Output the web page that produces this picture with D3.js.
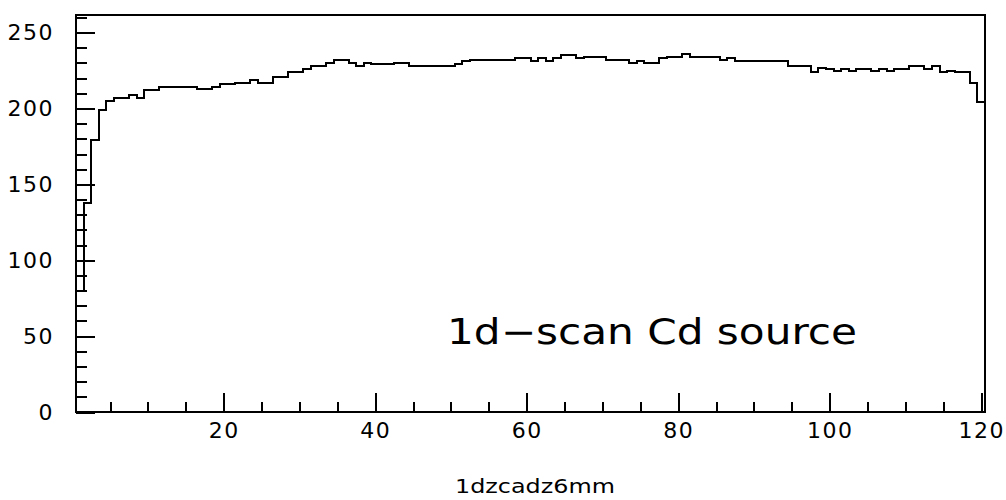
<!DOCTYPE html>
<html>
<head>
<meta charset="utf-8">
<script src="https://cdn.jsdelivr.net/npm/d3@7"></script>
<style>
  body { margin: 0; background: #fff; }
  svg { display: block; }
  .lbl { font-family: "DejaVu Sans", sans-serif; font-size: 22px; fill: #000; }
</style>
</head>
<body>
<div id="container"><svg></svg></div>
<script>
const W = 1006, H = 500;

// counts per bin, bins 1..120
const counts = [
  80, 138, 179, 199, 205, 207, 207, 209, 207, 212,
  212, 214, 214, 214, 214, 214, 213, 213, 214, 216,
  216, 217, 217, 219, 217, 217, 221, 221, 224, 224,
  226, 228, 228, 230, 232, 232, 230, 228, 230, 229,
  229, 229, 230, 230, 228, 228, 228, 228, 228, 228,
  229, 231, 232, 232, 232, 232, 232, 232, 233, 233,
  231, 233, 231, 233, 235, 235, 233, 234, 234, 234,
  232, 232, 232, 230, 231, 230, 230, 233, 234, 234,
  236, 234, 234, 234, 234, 232, 233, 231, 231, 231,
  231, 231, 231, 231, 228, 228, 228, 224, 227, 226,
  225, 226, 225, 226, 226, 225, 226, 225, 226, 226,
  228, 228, 226, 228, 224, 225, 224, 224, 217, 204
];
const bins = d3.range(1, counts.length + 1);

const xMajor = [20, 40, 60, 80, 100, 120];
const xMinor = d3.range(5, 121, 5);
const yMajor = [0, 50, 100, 150, 200, 250];
const yMinor = d3.range(0, 261, 10);

const title = '1dzcadz6mm';
const note = '1d\u2212scan Cd source';

const plot = {left: 76, right: 985, top: 15, bottom: 412};

const x = d3.scaleLinear().domain([0.5, 120.5]).range([plot.left, plot.right]);
const y = d3.scaleLinear().domain([0, 261.6]).range([plot.bottom, plot.top]);

const svg = d3.select('#container').select('svg')
    .attr('width', W)
    .attr('height', H);

// ticks inside the frame
function ticks(axis, len, vals, tx) {
    let g = svg.append('g')
        .attr('transform', tx)
        .call(axis.tickValues(vals).tickSize(len).tickFormat(''));
    g.select('.domain').remove();
    g.selectAll('line')
        .attr('stroke', '#000')
        .attr('stroke-width', 2)
        .attr('shape-rendering', 'crispEdges');
}
ticks(d3.axisRight(y), 11, yMinor, `translate(${plot.left},0)`);
ticks(d3.axisRight(y), 19, yMajor, `translate(${plot.left},0)`);
ticks(d3.axisTop(x), 10, xMinor, `translate(0,${plot.bottom})`);
ticks(d3.axisTop(x), 19, xMajor, `translate(0,${plot.bottom})`);

// labels
let yl = svg.append('g')
    .attr('transform', `translate(${plot.left},0)`)
    .call(d3.axisLeft(y).tickValues(yMajor).tickSize(0).tickPadding(22));
yl.select('.domain').remove();
yl.selectAll('text').attr('class', 'lbl').attr('font-size', null)
    .attr('font-family', null).attr('letter-spacing', 1.5);

let xl = svg.append('g')
    .attr('transform', `translate(0,${plot.bottom})`)
    .call(d3.axisBottom(x).tickValues(xMajor).tickSize(0).tickPadding(10));
xl.select('.domain').remove();
xl.selectAll('text').attr('class', 'lbl').attr('font-size', null)
    .attr('font-family', null).attr('letter-spacing', 1.5);

// histogram
const pts = bins.map((b, i) => [b - 0.5, counts[i]]);
pts.push([bins[bins.length - 1] + 0.5, counts[counts.length - 1]]);
const line = d3.line()
    .x(d => x(d[0]))
    .y(d => y(d[1]))
    .curve(d3.curveStepAfter);
svg.append('path')
    .attr('d', line(pts))
    .attr('fill', 'none')
    .attr('stroke', '#000')
    .attr('stroke-width', 2)
    .attr('shape-rendering', 'crispEdges');

// frame
svg.append('rect')
    .attr('x', plot.left)
    .attr('y', plot.top)
    .attr('width', plot.right - plot.left)
    .attr('height', plot.bottom - plot.top)
    .attr('fill', 'none')
    .attr('stroke', '#000')
    .attr('stroke-width', 2)
    .attr('shape-rendering', 'crispEdges');

svg.append('text')
    .attr('class', 'lbl')
    .attr('x', 535)
    .attr('y', 493)
    .attr('text-anchor', 'middle')
    .style('font-size', '20px')
    .attr('textLength', 160)
    .attr('lengthAdjust', 'spacingAndGlyphs')
    .text(title);

svg.append('text')
    .attr('class', 'lbl')
    .attr('x', 447)
    .attr('y', 344)
    .style('font-size', '35px')
    .attr('textLength', 410)
    .attr('lengthAdjust', 'spacingAndGlyphs')
    .text(note);
</script>
</body>
</html>
